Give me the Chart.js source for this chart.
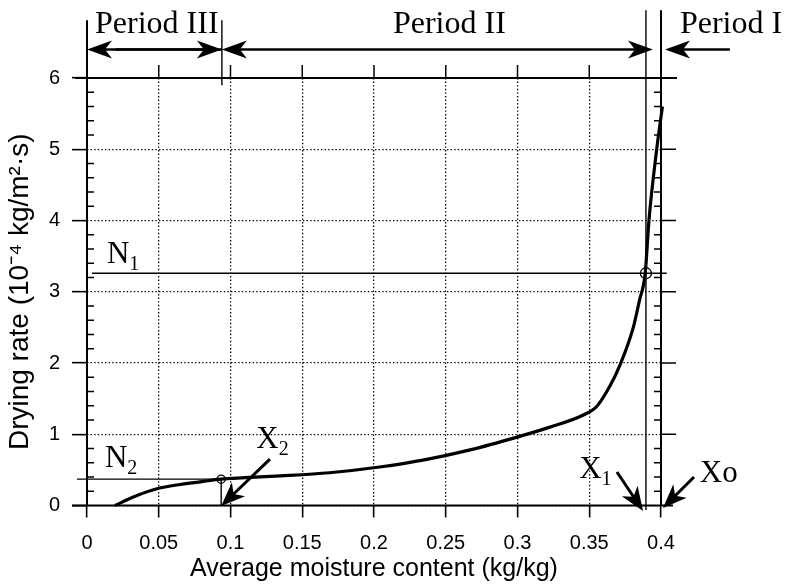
<!DOCTYPE html>
<html>
<head>
<meta charset="utf-8">
<script src="https://cdn.jsdelivr.net/npm/chart.js@4.4.1/dist/chart.umd.min.js"></script>
<style>
  html, body { margin: 0; padding: 0; background: #fff; }
</style>
</head>
<body>
<canvas id="dryingChart" width="788" height="585"></canvas>
<script>
// ── data ──
const moisture   = [0.0195, 0.0323, 0.0488, 0.0648, 0.0800, 0.0930, 0.1100, 0.1345, 0.1690, 0.2040, 0.2350, 0.2670,
                    0.2997, 0.3226, 0.3459, 0.3552, 0.3645, 0.3714, 0.3807, 0.3850, 0.3890, 0.3916, 0.3970, 0.4010];
const dryingRate = [0, 0.12, 0.235, 0.295, 0.335, 0.37, 0.39, 0.415, 0.46, 0.54, 0.64, 0.78,
                    0.96, 1.10, 1.27, 1.39, 1.68, 1.97, 2.50, 2.88, 3.26, 4.00, 5.00, 5.60];

const xTickLabels = ['0', '0.05', '0.1', '0.15', '0.2', '0.25', '0.3', '0.35', '0.4'];
const yTickLabels = ['0', '1', '2', '3', '4', '5', '6'];

// critical points: X2/N2 and X1/N1, initial moisture Xo
const X2 = 0.0935, N2 = 0.37;
const X1 = 0.3895, N1 = 3.26;
const Xo = 0.4;
const periodEdge = 0.094;   // border between period III and II

const sans = '"Liberation Sans", Arial, sans-serif';
const serif = '"Liberation Serif", "Times New Roman", serif';

const guide = (pts, w) => ({
    data: pts, showLine: true, borderColor: '#000', borderWidth: w || 1.4,
    pointRadius: 0, clip: false, tension: 0
});

// ── annotations drawn on top (data units) ──
const frame = {
    id: 'frame',
    afterDraw(chart) {
        const { ctx, scales: { x, y } } = chart;
        const px = v => x.getPixelForValue(v);
        const py = v => y.getPixelForValue(v);
        const line = (x1, y1, x2, y2, w) => {
            ctx.beginPath();
            ctx.lineWidth = w;
            ctx.moveTo(x1, y1);
            ctx.lineTo(x2, y2);
            ctx.stroke();
        };
        const head = (tx, ty, fx, fy, len, half) => {
            const d = Math.hypot(tx - fx, ty - fy);
            const ux = (tx - fx) / d, uy = (ty - fy) / d;
            const nx = -uy, ny = ux;
            ctx.beginPath();
            ctx.moveTo(tx, ty);
            ctx.lineTo(tx - ux * len + nx * half, ty - uy * len + ny * half);
            ctx.lineTo(tx - ux * len * 0.72, ty - uy * len * 0.72);
            ctx.lineTo(tx - ux * len - nx * half, ty - uy * len - ny * half);
            ctx.closePath();
            ctx.fill();
        };
        const arrow = (fx, fy, tx, ty, w, len, half) => {
            const d = Math.hypot(tx - fx, ty - fy);
            const ux = (tx - fx) / d, uy = (ty - fy) / d;
            line(fx, fy, tx - ux * len * 0.6, ty - uy * len * 0.6, w);
            head(tx, ty, fx, fy, len, half);
        };
        const label = (main, sub, xv, yv, size) => {
            const X = px(xv), Y = py(yv);
            ctx.font = `${size}px ${serif}`;
            ctx.fillText(main, X, Y);
            if (sub) {
                const w = ctx.measureText(main).width;
                ctx.font = `${Math.round(size * 0.64)}px ${serif}`;
                ctx.fillText(sub, X + w, Y + size * 0.22);
            }
        };

        ctx.save();
        ctx.strokeStyle = '#000';
        ctx.fillStyle = '#000';
        ctx.lineCap = 'butt';

        const x0 = px(0), x4 = px(0.4), y0 = py(0), y6 = py(6);
        // box
        line(x0, y0, x0, y6, 2);
        line(x4, y0, x4, y6, 2);
        line(x0 - 12, y6, x4 + 16, y6, 2);
        line(x0 - 15, y0, x4 + 12, y0, 2);

        // minor ticks inside left and right borders
        for (let k = 1; k < 30; k++) {
            if (k % 5 === 0) continue;
            const yy = py(k * 0.2);
            line(x0, yy, x0 + 7, yy, 1.5);
            line(x4 - 7, yy, x4, yy, 1.5);
        }
        // outer ticks on top and right
        for (let k = 1; k < 8; k++) line(px(k * 0.05), y6, px(k * 0.05), y6 - 13, 1.5);
        for (let k = 1; k < 6; k++) line(x4, py(k), x4 + 15, py(k), 1.5);

        // period arrows
        const ya = py(6.40);
        arrow(px(periodEdge), ya, px(0), ya, 2.6, 25, 9);
        arrow(px(0.02), ya, px(periodEdge), ya, 2.6, 25, 9);
        arrow(px(0.2), ya, px(periodEdge), ya, 2.6, 25, 9);
        arrow(px(0.2), ya, px(0.3944), ya, 2.6, 25, 9);
        arrow(px(0.448), ya, px(0.4028), ya, 2.6, 25, 9);

        // pointer arrows to X2, X1, Xo
        arrow(px(0.1275), py(0.652), px(X2), py(-0.007), 3, 24, 9.5);
        arrow(px(0.3693), py(0.47), px(0.3875), py(-0.077), 3, 24, 9.5);
        arrow(px(0.423), py(0.40), px(0.4014), py(-0.035), 3, 24, 9.5);

        // text
        ctx.textAlign = 'left';
        ctx.textBaseline = 'alphabetic';
        label('Period III', null, 0.0056, 6.634, 32);
        label('Period II', null, 0.2132, 6.634, 32);
        label('Period I', null, 0.4132, 6.634, 32);
        label('N', '1', 0.0139, 3.40, 31);
        label('N', '2', 0.0125, 0.54, 31);
        label('X', '2', 0.118, 0.806, 31);
        label('X', '1', 0.343, 0.386, 31);
        label('Xo', null, 0.427, 0.33, 31);
        ctx.restore();
    }
};

const ctx = document.getElementById('dryingChart').getContext('2d');

new Chart(ctx, {
    type: 'scatter',
    data: {
        datasets: [
            {
                data: moisture.map((m, i) => ({ x: m, y: dryingRate[i] })),
                showLine: true, borderColor: '#000', borderWidth: 3.2,
                pointRadius: 0, cubicInterpolationMode: 'monotone', clip: false
            },
            guide([{ x: 0.0035, y: N1 }, { x: 0.404, y: N1 }]),
            guide([{ x: -0.007, y: N2 }, { x: X2, y: N2 }]),
            guide([{ x: X2, y: 0 }, { x: X2, y: N2 }]),
            guide([{ x: X1, y: -0.063 }, { x: X1, y: 6.95 }]),
            guide([{ x: Xo, y: 6 }, { x: Xo, y: 6.95 }], 2),
            guide([{ x: 0, y: 6 }, { x: 0, y: 6.81 }], 2),
            guide([{ x: periodEdge, y: 5.9 }, { x: periodEdge, y: 6.81 }]),
            {
                data: [{ x: X2, y: N2 }, { x: X1, y: N1 }],
                pointRadius: [4, 5.5], pointBorderColor: '#000', pointBorderWidth: 1.3,
                pointBackgroundColor: 'rgba(0,0,0,0)', clip: false
            }
        ]
    },
    options: {
        responsive: false,
        animation: false,
        layout: { padding: { left: 0, right: 127, top: 78, bottom: 0 } },
        plugins: { legend: { display: false }, tooltip: { enabled: false } },
        scales: {
            x: {
                type: 'linear', min: 0, max: 0.4,
                afterFit: s => { s.height = 79.5; },
                ticks: {
                    stepSize: 0.05, color: '#000', padding: 14,
                    font: { family: sans, size: 20 },
                    callback: (v, i) => xTickLabels[i]
                },
                grid: {
                    color: '#000', lineWidth: 1.3, drawTicks: true, tickLength: 12,
                    tickColor: '#000', tickWidth: 1.6
                },
                border: { display: false, dash: [1.4, 2.2] },
                title: {
                    display: true, text: 'Average moisture content (kg/kg)', color: '#000',
                    font: { family: sans, size: 25 }, padding: { top: 0, bottom: 1 }
                }
            },
            y: {
                min: 0, max: 6,
                afterFit: s => { s.width = 87; },
                ticks: {
                    stepSize: 1, color: '#000', padding: 12,
                    font: { family: sans, size: 20 },
                    callback: (v, i) => yTickLabels[i]
                },
                grid: {
                    color: '#000', lineWidth: 1.3, drawTicks: true, tickLength: 15,
                    tickColor: '#000', tickWidth: 1.6
                },
                border: { display: false, dash: [1.4, 2.2] },
                title: {
                    display: true, text: 'Drying rate (10⁻⁴ kg/m²·s)', color: '#000',
                    font: { family: sans, size: 28 }, padding: { top: 3, bottom: 0 }
                }
            }
        }
    },
    plugins: [frame]
});
</script>
</body>
</html>
